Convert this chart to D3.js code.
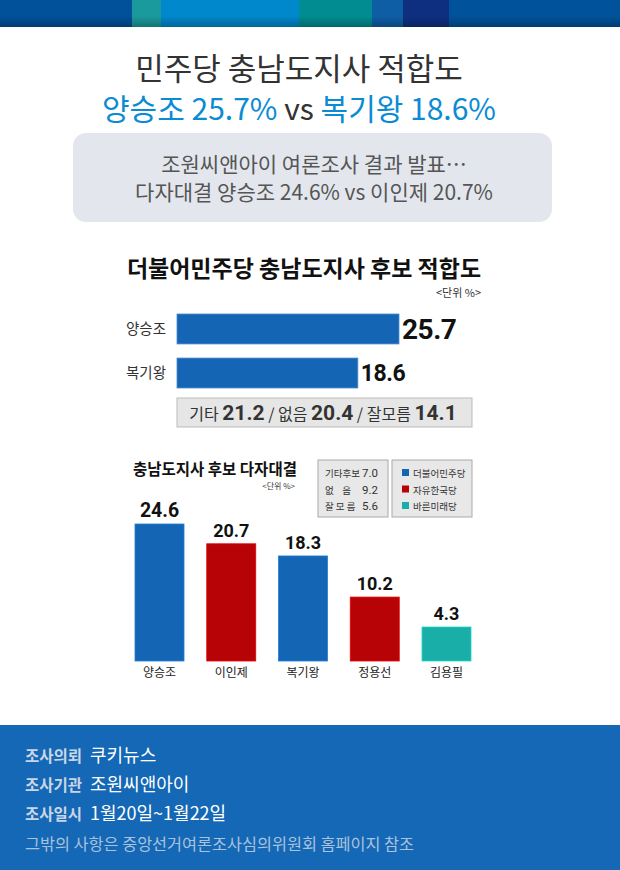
<!DOCTYPE html>
<html>
<head>
<meta charset="utf-8">
<script src="https://cdn.jsdelivr.net/npm/d3@7/dist/d3.min.js"></script>
<style>
  body { margin: 0; background: #fff; }
  svg { display: block; font-family: 'Noto Sans CJK KR', 'Noto Sans', sans-serif; }
  .pre { white-space: pre; }
</style>
</head>
<body>
<svg id="chart" width="620" height="870"></svg>
<script>
// headline
const headTitle = '민주당 충남도지사 적합도';
const headA = '양승조 25.7%';
const headB = '복기왕 18.6%';
const subLines = ['조원씨앤아이 여론조사 결과 발표…', '다자대결 양승조 24.6% vs 이인제 20.7%'];

// chart 1: 적합도
const fitTitle = '더불어민주당 충남도지사 후보 적합도';
const fitNames = ['양승조', '복기왕'];
const fitValues = [25.7, 18.6];
const restLabels = ['기타', '없음', '잘모름'];
const restValues = [21.2, 20.4, 14.1];

// chart 2: 다자대결
const multiTitle = '충남도지사 후보 다자대결';
const multiNames = ['양승조', '이인제', '복기왕', '정용선', '김용필'];
const multiValues = [24.6, 20.7, 18.3, 10.2, 4.3];
const multiParty = ['더불어민주당', '자유한국당', '더불어민주당', '자유한국당', '바른미래당'];
const multiRestLabels = ['기타후보', '없    음', '잘 모 름'];
const multiRestValues = [7.0, 9.2, 5.6];
const parties = ['더불어민주당', '자유한국당', '바른미래당'];

// footer
const infoKeys = ['조사의뢰', '조사기관', '조사일시'];
const infoValues = ['쿠키뉴스', '조원씨앤아이', '1월20일~1월22일'];
const footNote = '그밖의 사항은 중앙선거여론조사심의위원회 홈페이지 참조';

const svg = d3.select('#chart');
const partyColor = d3.scaleOrdinal().domain(parties).range(['#1466b4', '#b70306', '#1aaea8']);

// top banner
const defs = svg.append('defs');
const shade = defs.append('linearGradient').attr('id', 'shade').attr('x1', 0).attr('x2', 0).attr('y1', 0).attr('y2', 1);
shade.append('stop').attr('offset', '0.6').attr('stop-color', '#000').attr('stop-opacity', 0);
shade.append('stop').attr('offset', '1').attr('stop-color', '#000').attr('stop-opacity', 0.25);
const banner = [[0, 132, '#00509a'], [132, 161, '#1a9a9c'], [161, 299, '#0088cc'], [299, 372, '#008c90'],
  [372, 403, '#0e5ea6'], [403, 449, '#0e2f80'], [449, 620, '#00529a']];
svg.selectAll('rect.band').data(banner).join('rect').attr('class', 'band')
  .attr('x', (d) => d[0]).attr('y', 0).attr('width', (d) => d[1] - d[0]).attr('height', 27).attr('fill', (d) => d[2]);
svg.append('rect').attr('x', 0).attr('y', 0).attr('width', 620).attr('height', 27).attr('fill', 'url(#shade)');

// headline text
svg.append('text').attr('x', 299).attr('y', 80).attr('text-anchor', 'middle')
  .attr('font-size', 31).attr('fill', '#333').text(headTitle);
const h2 = svg.append('text').attr('x', 299).attr('y', 120).attr('text-anchor', 'middle').attr('font-size', 30);
h2.append('tspan').attr('fill', '#0a8bd2').text(headA + ' ');
h2.append('tspan').attr('fill', '#333').text('vs ');
h2.append('tspan').attr('fill', '#0a8bd2').text(headB);

svg.append('rect').attr('x', 73).attr('y', 133).attr('width', 479).attr('height', 89).attr('rx', 13)
  .attr('fill', '#e3e7ed');
svg.selectAll('text.sub').data(subLines).join('text').attr('class', 'sub')
  .attr('x', 314).attr('y', (d, i) => 172 + i * 28).attr('text-anchor', 'middle')
  .attr('font-size', 21).attr('fill', '#555').text((d) => d);

// chart 1
svg.append('text').attr('x', 304).attr('y', 277).attr('text-anchor', 'middle')
  .attr('font-size', 23).attr('font-weight', 'bold').attr('fill', '#111').text(fitTitle);
svg.append('text').attr('x', 481).attr('y', 297).attr('text-anchor', 'end')
  .attr('font-size', 11).attr('fill', '#333').text('<단위 %>');

const x1 = d3.scaleLinear().domain([-12.6, 25.7]).range([177, 399]);
const y1 = d3.scaleBand().domain(fitNames).range([314, 388]).paddingInner(0.32);
const g1 = svg.append('g');
g1.selectAll('rect').data(fitValues).join('rect')
  .attr('x', x1(x1.domain()[0])).attr('y', (d, i) => y1(fitNames[i]))
  .attr('width', (d) => x1(d) - x1(x1.domain()[0])).attr('height', y1.bandwidth())
  .attr('fill', '#1466b4').attr('stroke', '#4d8ccc').attr('stroke-width', 0.8);
g1.selectAll('text.name').data(fitNames).join('text').attr('class', 'name')
  .attr('x', 166).attr('y', (d) => y1(d) + y1.bandwidth() / 2 + 5).attr('text-anchor', 'end')
  .attr('font-size', 14.5).attr('fill', '#333').text((d) => d);
g1.selectAll('text.val').data(fitValues).join('text').attr('class', 'val')
  .attr('x', (d) => x1(d) + 3).attr('y', (d, i) => y1(fitNames[i]) + y1.bandwidth() / 2 + (i === 0 ? 10 : 8))
  .attr('font-family', 'Roboto, sans-serif').attr('font-weight', 'bold')
  .attr('font-size', (d, i) => (i === 0 ? 28 : 23)).attr('fill', '#111')
  .attr('letter-spacing', -0.5).text((d) => d.toFixed(1));

svg.append('rect').attr('x', 177).attr('y', 398).attr('width', 295).attr('height', 29)
  .attr('fill', '#e6e6e6').attr('stroke', '#bbb');
const rest = svg.append('text').attr('x', 323).attr('y', 420).attr('text-anchor', 'middle').attr('fill', '#333');
restLabels.forEach((l, i) => {
  rest.append('tspan').attr('font-size', 16).text((i ? ' / ' : '') + l + ' ');
  rest.append('tspan').attr('font-size', 21).attr('font-weight', 'bold')
    .attr('font-family', 'Roboto, sans-serif').text(restValues[i].toFixed(1));
});

// chart 2
svg.append('text').attr('x', 133).attr('y', 475).attr('font-size', 15.5).attr('font-weight', 'bold')
  .attr('fill', '#111').text(multiTitle);
svg.append('text').attr('x', 295).attr('y', 489).attr('text-anchor', 'end')
  .attr('font-size', 8).attr('fill', '#333').text('<단위 %>');

const lg = svg.append('g');
lg.append('rect').attr('x', 318).attr('y', 460).attr('width', 70).attr('height', 57)
  .attr('fill', '#e8e8e8').attr('stroke', '#aaa');
lg.append('rect').attr('x', 392).attr('y', 460).attr('width', 80).attr('height', 57)
  .attr('fill', '#e8e8e8').attr('stroke', '#aaa');
lg.selectAll('text.rl').data(multiRestLabels).join('text').attr('class', 'rl pre')
  .attr('x', 325).attr('y', (d, i) => 477 + i * 16.5).attr('font-size', 9.5).attr('fill', '#333').text((d) => d);
lg.selectAll('text.rv').data(multiRestValues).join('text').attr('class', 'rv')
  .attr('x', 362).attr('y', (d, i) => 477 + i * 16.5).attr('font-size', 11.5).attr('fill', '#333')
  .attr('font-family', 'Roboto, sans-serif').text((d) => d.toFixed(1));
lg.selectAll('rect.sw').data(parties).join('rect').attr('class', 'sw')
  .attr('x', 402).attr('y', (d, i) => 469 + i * 16.5).attr('width', 7).attr('height', 7)
  .attr('fill', (d) => partyColor(d));
lg.selectAll('text.pl').data(parties).join('text').attr('class', 'pl')
  .attr('x', 413).attr('y', (d, i) => 477 + i * 16.5).attr('font-size', 9.5).attr('fill', '#333').text((d) => d);

const x2 = d3.scaleBand().domain(multiNames).range([135, 471]).paddingInner(0.317);
const y2 = d3.scaleLinear().domain([-2.4, 24.6]).range([661, 524]);
const g2 = svg.append('g');
g2.selectAll('rect').data(multiValues).join('rect')
  .attr('x', (d, i) => x2(multiNames[i])).attr('y', (d) => y2(d))
  .attr('width', x2.bandwidth()).attr('height', (d) => y2(y2.domain()[0]) - y2(d))
  .attr('fill', (d, i) => partyColor(multiParty[i]))
  .attr('stroke', (d, i) => d3.color(partyColor(multiParty[i])).brighter(0.6)).attr('stroke-width', 0.8);
g2.selectAll('text.val').data(multiValues).join('text').attr('class', 'val')
  .attr('x', (d, i) => x2(multiNames[i]) + x2.bandwidth() / 2).attr('y', (d) => y2(d) - 7)
  .attr('text-anchor', 'middle').attr('font-family', 'Roboto, sans-serif').attr('font-weight', 'bold')
  .attr('font-size', (d, i) => (i === 0 ? 19.5 : 18)).attr('fill', '#111').text((d) => d.toFixed(1));
g2.selectAll('text.name').data(multiNames).join('text').attr('class', 'name')
  .attr('x', (d) => x2(d) + x2.bandwidth() / 2).attr('y', 677).attr('text-anchor', 'middle')
  .attr('font-size', 12).attr('fill', '#222').text((d) => d);

// footer
svg.append('rect').attr('x', 0).attr('y', 725).attr('width', 620).attr('height', 145).attr('fill', '#1468b5');
svg.selectAll('text.ik').data(infoKeys).join('text').attr('class', 'ik')
  .attr('x', 25).attr('y', (d, i) => 762 + i * 29).attr('font-size', 15.5).attr('font-weight', 'bold')
  .attr('fill', '#cad6e6').text((d) => d);
svg.selectAll('text.iv').data(infoValues).join('text').attr('class', 'iv')
  .attr('x', 90).attr('y', (d, i) => 762 + i * 29).attr('font-size', 18)
  .attr('fill', '#fff').text((d) => d);
svg.append('text').attr('x', 25).attr('y', 850).attr('font-size', 16.3).attr('fill', '#a9c2de').text(footNote);
</script>
</body>
</html>
